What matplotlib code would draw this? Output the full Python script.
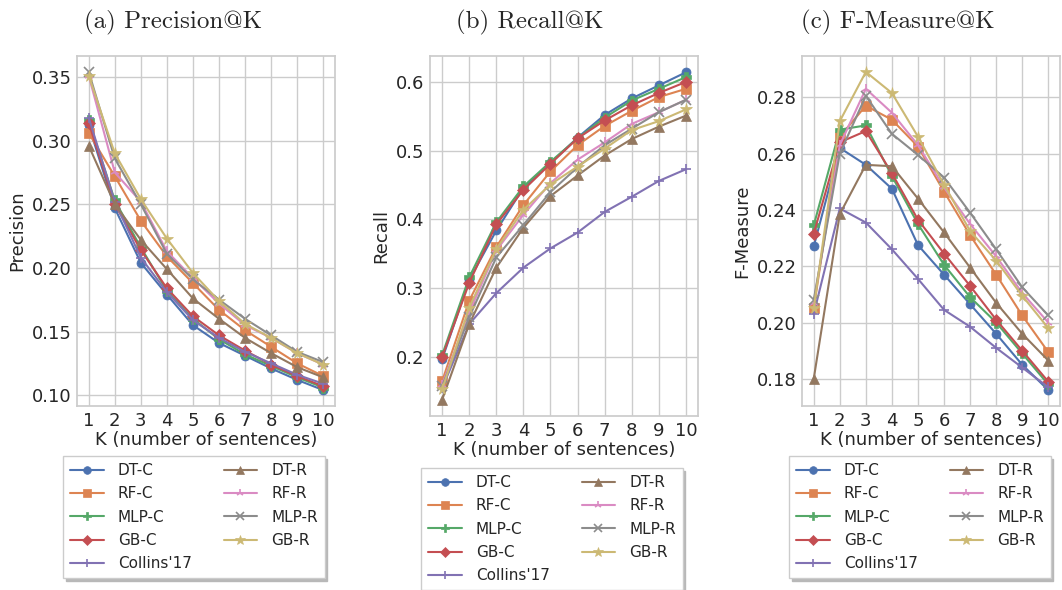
import numpy as np
import matplotlib
matplotlib.use('Agg')
import matplotlib.pyplot as plt
import seaborn as sns

# data
k = np.arange(1, 11)
methods = ['DT-C', 'RF-C', 'MLP-C', 'GB-C', "Collins'17", 'DT-R', 'RF-R', 'MLP-R', 'GB-R']
markers = ['o', 's', 'P', 'D', '+', '^', '2', 'x', '*']

precision = {
    'DT-C':       [0.312, 0.247, 0.204, 0.179, 0.155, 0.141, 0.131, 0.121, 0.112, 0.104],
    'RF-C':       [0.306, 0.272, 0.237, 0.209, 0.188, 0.167, 0.151, 0.138, 0.125, 0.115],
    'MLP-C':      [0.316, 0.253, 0.216, 0.182, 0.160, 0.144, 0.132, 0.123, 0.114, 0.106],
    'GB-C':       [0.314, 0.250, 0.214, 0.184, 0.162, 0.147, 0.135, 0.124, 0.115, 0.107],
    "Collins'17": [0.318, 0.252, 0.208, 0.181, 0.159, 0.145, 0.134, 0.125, 0.116, 0.109],
    'DT-R':       [0.296, 0.250, 0.222, 0.199, 0.176, 0.160, 0.145, 0.133, 0.122, 0.114],
    'RF-R':       [0.351, 0.275, 0.252, 0.213, 0.192, 0.172, 0.155, 0.145, 0.133, 0.124],
    'MLP-R':      [0.354, 0.286, 0.250, 0.211, 0.191, 0.175, 0.160, 0.147, 0.134, 0.126],
    'GB-R':       [0.351, 0.290, 0.254, 0.223, 0.196, 0.174, 0.156, 0.145, 0.133, 0.124],
}
recall = {
    'DT-C':       [0.197, 0.312, 0.384, 0.446, 0.482, 0.519, 0.552, 0.576, 0.595, 0.614],
    'RF-C':       [0.165, 0.282, 0.360, 0.421, 0.470, 0.508, 0.536, 0.558, 0.578, 0.590],
    'MLP-C':      [0.203, 0.316, 0.396, 0.448, 0.484, 0.518, 0.548, 0.573, 0.590, 0.607],
    'GB-C':       [0.200, 0.308, 0.393, 0.443, 0.481, 0.518, 0.544, 0.566, 0.584, 0.600],
    "Collins'17": [0.155, 0.248, 0.293, 0.330, 0.358, 0.381, 0.411, 0.433, 0.456, 0.473],
    'DT-R':       [0.138, 0.248, 0.330, 0.388, 0.434, 0.464, 0.493, 0.517, 0.535, 0.551],
    'RF-R':       [0.160, 0.265, 0.355, 0.407, 0.453, 0.487, 0.512, 0.539, 0.556, 0.574],
    'MLP-R':      [0.158, 0.258, 0.345, 0.392, 0.440, 0.476, 0.508, 0.532, 0.556, 0.574],
    'GB-R':       [0.153, 0.272, 0.357, 0.414, 0.451, 0.477, 0.503, 0.530, 0.543, 0.560],
}
fmeasure = {
    'DT-C':       [0.2270, 0.2620, 0.2560, 0.2475, 0.2275, 0.2170, 0.2065, 0.1960, 0.1850, 0.1760],
    'RF-C':       [0.2050, 0.2660, 0.2770, 0.2720, 0.2625, 0.2465, 0.2310, 0.2170, 0.2025, 0.1895],
    'MLP-C':      [0.2345, 0.2685, 0.2700, 0.2520, 0.2350, 0.2205, 0.2090, 0.2000, 0.1890, 0.1780],
    'GB-C':       [0.2315, 0.2640, 0.2680, 0.2530, 0.2365, 0.2245, 0.2130, 0.2010, 0.1900, 0.1790],
    "Collins'17": [0.2030, 0.2405, 0.2355, 0.2260, 0.2155, 0.2045, 0.1985, 0.1910, 0.1840, 0.1770],
    'DT-R':       [0.1800, 0.2385, 0.2560, 0.2555, 0.2440, 0.2320, 0.2195, 0.2070, 0.1960, 0.1865],
    'RF-R':       [0.2070, 0.2630, 0.2830, 0.2745, 0.2630, 0.2480, 0.2350, 0.2235, 0.2105, 0.2000],
    'MLP-R':      [0.2080, 0.2600, 0.2805, 0.2670, 0.2595, 0.2515, 0.2390, 0.2260, 0.2125, 0.2025],
    'GB-R':       [0.2050, 0.2715, 0.2890, 0.2815, 0.2660, 0.2490, 0.2325, 0.2220, 0.2095, 0.1980],
}

titles = ['(a) Precision@K', '(b) Recall@K', '(c) F-Measure@K']
ylabels = ['Precision', 'Recall', 'F-Measure']
xlabel = 'K (number of sentences)'

sns.set_theme(style='whitegrid', palette='deep')
plt.rcParams['font.family'] = ['DejaVu Sans']
colors = sns.color_palette('deep', 9)

fig = plt.figure(figsize=(10.62, 5.90), dpi=100)

# axes boxes in pixels: left, top, right, bottom
boxes = [(77, 56, 335, 406), (430, 56, 698, 416), (802, 56, 1060, 406)]
title_x = [173, 530, 898]
legend_cx = [194, 552, 920]
legend_tops = [456, 468, 456]
yticks = [[0.10, 0.15, 0.20, 0.25, 0.30, 0.35],
          [0.2, 0.3, 0.4, 0.5, 0.6],
          [0.18, 0.20, 0.22, 0.24, 0.26, 0.28]]
W, H = 1062., 590.

for i, data in enumerate([precision, recall, fmeasure]):
    l, t, r, b = boxes[i]
    ax = fig.add_axes([l / W, 1 - b / H, (r - l) / W, (b - t) / H])
    for j, m in enumerate(methods):
        mk = markers[j]
        ms = {'o': 6.5, 's': 6.5, 'P': 6.5, 'D': 6, '^': 6.5, '*': 8.5}.get(mk, 6.5)
        mew = 1.2 if mk in ['+', 'x', '2'] else 0.5
        ax.plot(k, data[m], marker=mk, color=colors[j], label=m,
                markersize=ms, linewidth=1.5, markeredgewidth=mew)
    ax.set_xticks(k)
    ax.set_yticks(yticks[i])
    ax.tick_params(labelsize=13, length=0, pad=4)
    ax.set_xlabel(xlabel, fontsize=13, labelpad=1)
    ax.set_ylabel(ylabels[i], fontsize=13, labelpad=4)
    leg = ax.legend(loc='upper center', bbox_to_anchor=(legend_cx[i] / W, 1 - legend_tops[i] / H),
                    bbox_transform=fig.transFigure, ncol=2, fontsize=11, markerscale=0.85,
                    shadow={'ox': 1.8, 'oy': -1.8, 'color': '#b8b8b8', 'alpha': 1},
                    frameon=True, fancybox=False, handlelength=2.2, handletextpad=0.9,
                    columnspacing=2.1, labelspacing=0.55, borderpad=0.45, borderaxespad=0)
    leg.get_frame().set_edgecolor('#cccccc')
    leg.get_frame().set_alpha(1)
    fig.text(title_x[i] / W, 1 - 22 / H, titles[i], ha='center', va='center',
             fontsize=18, family=['cmr10', 'DejaVu Serif'])

fig.savefig('out.png', dpi=100)
